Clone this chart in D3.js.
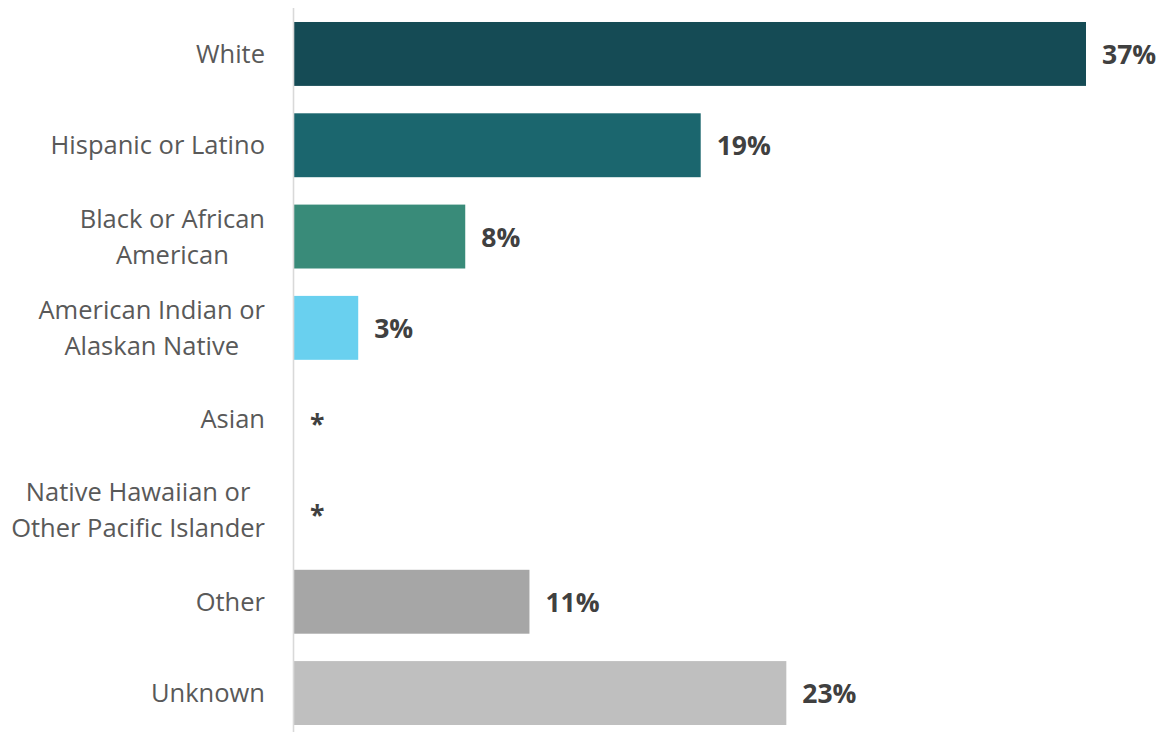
<!DOCTYPE html>
<html>
<head>
<meta charset="utf-8">
<script src="https://cdn.jsdelivr.net/npm/d3@7"></script>
<style>
  html, body { margin: 0; padding: 0; background: #ffffff; }
  svg { display: block; }
</style>
</head>
<body>
<svg id="chart" width="1162" height="732"></svg>
<script>
// ---- data ----
const categories = [
  ["White"],
  ["Hispanic or Latino"],
  ["Black or African", "American"],
  ["American Indian or", "Alaskan Native"],
  ["Asian"],
  ["Native Hawaiian or", "Other Pacific Islander"],
  ["Other"],
  ["Unknown"]
];
const values = [37, 19, 8, 3, null, null, 11, 23];
const valueLabels = ["37%", "19%", "8%", "3%", "*", "*", "11%", "23%"];
const barColors = ["#154b55", "#1b666e", "#398b79", "#69d0ef", "#ffffff", "#ffffff", "#a6a6a6", "#bfbfbf"];

// ---- layout ----
const svg = d3.select("#chart");
const font = "'Open Sans', 'DejaVu Sans', sans-serif";
const keys = categories.map(c => c.join(" "));

const y = d3.scaleBand()
  .domain(keys)
  .range([8.3, 738.7])
  .paddingInner(0.3)
  .paddingOuter(0.15);

const x = d3.scaleLinear()
  .domain([0, 37])
  .range([294, 1086]);

const rows = keys.map((k, i) => ({ key: k, lines: categories[i], v: values[i], label: valueLabels[i], color: barColors[i] }));

// bars
svg.append("g").selectAll("rect")
  .data(rows.filter(d => d.v != null))
  .join("rect")
  .attr("x", x(0))
  .attr("y", d => y(d.key))
  .attr("width", d => x(d.v) - x(0))
  .attr("height", y.bandwidth())
  .attr("fill", d => d.color);

// axis line (category axis)
const yAxis = d3.axisLeft(y).tickSize(0).tickFormat(() => "");
const gAxis = svg.append("g")
  .attr("transform", `translate(${x(0) - 0.5},0)`)
  .call(yAxis);
gAxis.select(".domain")
  .attr("stroke", "#d9d9d9")
  .attr("stroke-width", 1.6)
  .attr("d", "M0,8V732");

// category labels: block right-aligned at 265, lines centered within block
const lineH = 36;
const rightEdge = 265;
const catG = svg.append("g");
rows.forEach(d => {
  const cy = y(d.key) + y.bandwidth() / 2;
  const n = d.lines.length;
  const t = catG.append("text")
    .attr("font-family", font)
    .attr("font-size", 25.5)
    .attr("fill", "#595959")
    .attr("text-anchor", "middle");
  const spans = d.lines.map((ln, j) => t.append("tspan")
      .attr("y", cy + (j - (n - 1) / 2) * lineH + 9)
      .text(ln));
  const maxW = d3.max(spans, s => s.node().getComputedTextLength());
  spans.forEach(s => s.attr("x", rightEdge - maxW / 2));
});

// value labels
svg.append("g").selectAll("text")
  .data(rows)
  .join("text")
  .attr("x", d => x(d.v == null ? 0 : d.v) + 16)
  .attr("y", d => y(d.key) + y.bandwidth() / 2 + (d.v == null ? 15 : 10))
  .attr("font-family", font)
  .attr("font-weight", "bold")
  .attr("font-size", 26.5)
  .attr("fill", "#404040")
  .text(d => d.label);
</script>
</body>
</html>
